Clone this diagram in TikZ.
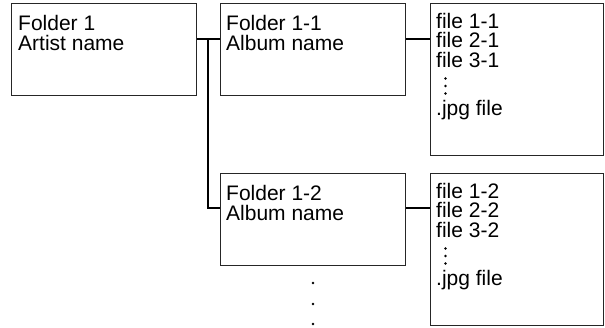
\documentclass[tikz,border=0pt]{standalone}
\usepackage{fontspec}
\setmainfont{Liberation Sans}
\usepackage{tikz}
\usetikzlibrary{calc}

\begin{document}
\begin{tikzpicture}[x=1pt, y=-1pt,
    box/.style={draw=black!85, line width=1pt, inner sep=0pt, anchor=north west},
    folderbox/.style={box, minimum width=185pt, minimum height=92pt},
    filebox/.style={box, minimum width=173pt, minimum height=152pt},
    label/.style={anchor=north west, inner sep=0pt, align=left,
        font=\fontsize{21}{20}\selectfont},
    filelabel/.style={label, font=\fontsize{21}{19.5}\selectfont},
    link/.style={line width=2pt, black}]
    \useasboundingbox (0,0) rectangle (605,327);
    % --- folders ---
    \node[folderbox] (f1)  at (11,3)   {};
    \node[folderbox] (f11) at (220,3)  {};
    \node[folderbox] (f12) at (220,173) {};
    % --- file lists ---
    \node[filebox] (l1) at (430,3)   {};
    \node[filebox] (l2) at (430,173) {};
    % --- texts ---
    \node[label, xshift=7pt, yshift=-12pt] (t1)  at (f1.north west)  {Folder 1\\Artist name};
    \node[label, xshift=6pt, yshift=-12pt] (t11) at (f11.north west) {Folder 1-1\\Album name};
    \node[label, xshift=6pt, yshift=-12pt] (t12) at (f12.north west) {Folder 1-2\\Album name};
    \node[filelabel, xshift=6pt, yshift=-10pt] (s1) at (l1.north west)
        {file 1-1\\file 2-1\\file 3-1\\[28.5pt].jpg file};
    \node[filelabel, xshift=6pt, yshift=-10pt] (s2) at (l2.north west)
        {file 1-2\\file 2-2\\file 3-2\\[28.5pt].jpg file};
    % --- dots in the lists ---
    \foreach \l in {l1,l2}
        \foreach \d in {75.5,83,90.5}
            \fill (\l.north west) ++(15.5,\d) circle (1.3pt);
    % --- connectors ---
    \coordinate (j1) at (208,38.5);
    \coordinate (j2) at (208,207.5);
    \draw[link] (f1.east |- j1) -- (f11.west |- j1);
    \draw[link] (j1) -- (j2) -- (f12.west |- j2);
    \draw[link] (f11.east |- j1) -- (l1.west |- j1);
    \draw[link] (f12.east |- j2) -- (l2.west |- j2);
    % --- more folders ---
    \foreach \d in {17,38,58}
        \fill (f12.south) ++(0,\d) circle (1.4pt);
\end{tikzpicture}
\end{document}
